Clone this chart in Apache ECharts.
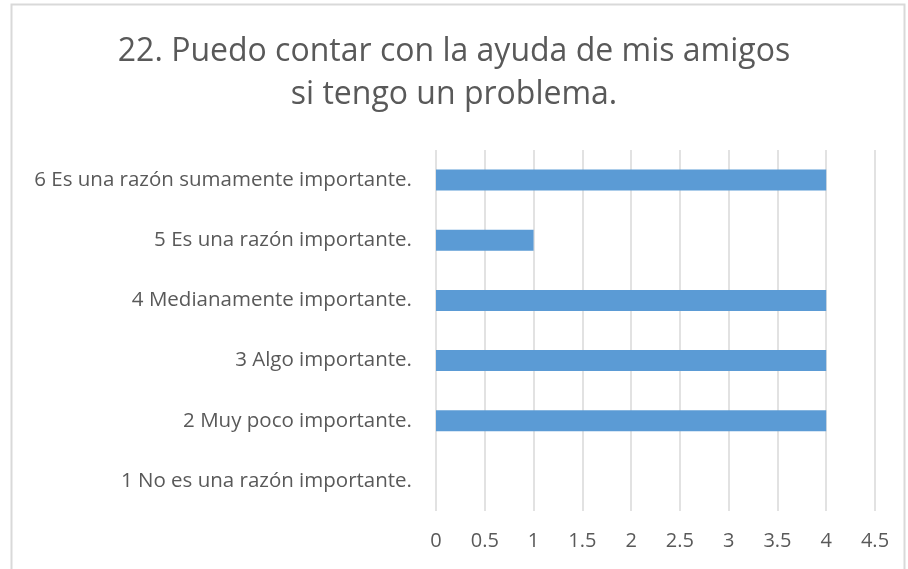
<!DOCTYPE html>
<html>
<head>
<meta charset="utf-8">
<script src="https://cdn.jsdelivr.net/npm/echarts@6/dist/echarts.min.js"></script>
<style>
  html, body { margin: 0; padding: 0; background: #ffffff; }
  #chart { width: 908px; height: 569px; }
</style>
</head>
<body>
<div id="chart"></div>
<script>
// Response options, bottom to top on the category axis
const categories = [
  '1 No es una razón importante.',
  '2 Muy poco importante.',
  '3 Algo importante.',
  '4 Medianamente importante.',
  '5 Es una razón importante.',
  '6 Es una razón sumamente importante.'
];
// Number of answers per option
const counts = [0, 4, 4, 4, 1, 4];
// Value axis range
const axisMin = 0;
const axisMax = 4.5;
const axisStep = 0.5;

const chartTitle = '22. Puedo contar con la ayuda de mis amigos\nsi tengo un problema.';

const FONT = '"Open Sans", "Noto Sans", sans-serif';
const TEXT = '#595959';

const chart = echarts.init(document.getElementById('chart'), null, { renderer: 'canvas' });
chart.setOption({
  backgroundColor: '#ffffff',
  animation: false,
  title: {
    text: chartTitle,
    left: 'center',
    top: 25,
    textStyle: {
      fontFamily: FONT,
      fontSize: 32,
      fontWeight: 'normal',
      color: TEXT,
      lineHeight: 43
    }
  },
  graphic: [{
    type: 'rect',
    shape: { x: 11.5, y: 4.5, width: 893, height: 620 },
    style: { fill: 'none', stroke: '#d9d9d9', lineWidth: 2 },
    silent: true,
    z: -1
  }],
  grid: { left: 436, right: 33, top: 150, bottom: 58, containLabel: false },
  xAxis: {
    type: 'value',
    min: axisMin,
    max: axisMax,
    interval: axisStep,
    axisLine: { show: false },
    axisTick: { show: false },
    axisLabel: {
      color: TEXT,
      fontFamily: FONT,
      fontSize: 20,
      margin: 20
    },
    splitLine: { show: true, lineStyle: { color: '#d9d9d9', width: 1.5 } }
  },
  yAxis: {
    type: 'category',
    data: categories,
    axisLine: { show: false },
    axisTick: { show: false },
    axisLabel: {
      color: TEXT,
      fontFamily: FONT,
      fontSize: 20.5,
      margin: 24
    }
  },
  series: [{
    type: 'bar',
    data: counts,
    barWidth: '35%',
    itemStyle: { color: '#5b9bd5' }
  }]
});
</script>
</body>
</html>
